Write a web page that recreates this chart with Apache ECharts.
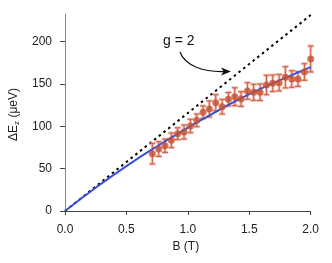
<!DOCTYPE html>
<html><head><meta charset="utf-8">
<script src="https://cdn.jsdelivr.net/npm/echarts@6/dist/echarts.min.js"></script>
<style>html,body{margin:0;padding:0;background:#fff}#c{width:332px;height:263px}</style>
</head><body><div id="c"></div>
<script>
const fieldB = [0.711,0.763,0.814,0.866,0.917,0.969,1.021,1.072,1.124,1.175,1.227,1.279,1.330,1.382,1.433,1.485,1.536,1.588,1.640,1.691,1.743,1.794,1.846,1.897,1.949,2.000];
const splitting = [67.7,73.2,77.1,83.5,91.3,93.3,100.4,107.1,116.6,120.5,127.9,123.2,132.0,135.0,132.3,141.8,140.2,140.2,148.8,150.9,151.6,157.9,155.9,155.9,164.2,179.6];
const errors = [12.2,8.7,7.9,8.7,7.0,8.3,8.0,7.5,7.5,9.5,9.5,8.7,8.0,10.6,8.7,9.8,9.5,9.8,11.5,9.8,9.8,12.6,9.8,8.7,9.8,15.4];
const fitB = [0,0.25,0.5,0.75,1.0,1.25,1.5,1.75,2.0];
const fitE = [0,27.5,53,76.5,98.5,119,138,154.5,170];
const g2B = [0,2.0];
const g2E = [0,231.5];
const xTicks = [0,0.5,1.0,1.5,2.0];
const yTicks = [0,50,100,150,200];

const FONT = 'Liberation Sans, Arial, sans-serif';
const chart = echarts.init(document.getElementById('c'), null, {renderer:'canvas'});
const pts = fieldB.map((b,i)=>[b,splitting[i]]);
const errData = fieldB.map((b,i)=>[b,splitting[i]-errors[i],splitting[i]+errors[i]]);
chart.setOption({
  animation:false,
  grid:{left:61,right:21.3,top:14,bottom:48},
  xAxis:{type:'value',min:-0.0326,max:2.0,
    axisLine:{show:true,lineStyle:{color:'#444',width:1}},
    axisTick:{show:true,customValues:xTicks,length:4,lineStyle:{color:'#444'}},
    axisLabel:{customValues:xTicks,formatter:v=>v.toFixed(1),color:'#222',fontSize:12,fontFamily:FONT,margin:9},
    splitLine:{show:false},
    name:'B (T)',nameLocation:'middle',nameGap:22,nameTextStyle:{color:'#222',fontSize:12,fontFamily:FONT}},
  yAxis:{type:'value',min:-4.73,max:232.7,
    axisLine:{show:true,lineStyle:{color:'#888',width:1}},
    axisTick:{show:true,customValues:yTicks,length:5,lineStyle:{color:'#444'}},
    axisLabel:{customValues:yTicks,color:'#222',fontSize:12,fontFamily:FONT,margin:9},
    splitLine:{show:false},
    name:'{a|ΔE}{s|z}{a| (μeV)}',nameLocation:'middle',nameGap:38,nameRotate:90,
    nameTextStyle:{rich:{a:{color:'#222',fontSize:12,fontFamily:FONT},s:{color:'#222',fontSize:8,fontFamily:FONT,padding:[6,0,0,0]}}}},
  series:[
    {type:'line',data:g2B.map((b,i)=>[b,g2E[i]]),symbol:'none',lineStyle:{color:'#000',width:2,type:[2.5,3.5]},z:2},
    {type:'custom',data:errData,z:3,renderItem:(params,api)=>{
      const x=api.value(0);const lo=api.coord([x,api.value(1)]);const hi=api.coord([x,api.value(2)]);
      const w=3;
      const light={stroke:'rgba(232,150,130,0.55)',lineWidth:3};
      const dark={stroke:'#cc5f44',lineWidth:1};
      return {type:'group',children:[
        {type:'line',shape:{x1:lo[0],y1:lo[1],x2:hi[0],y2:hi[1]},style:light},
        {type:'line',shape:{x1:lo[0]-w,y1:lo[1],x2:lo[0]+w,y2:lo[1]},style:light},
        {type:'line',shape:{x1:hi[0]-w,y1:hi[1],x2:hi[0]+w,y2:hi[1]},style:light},
        {type:'line',shape:{x1:lo[0],y1:lo[1],x2:hi[0],y2:hi[1]},style:dark},
        {type:'line',shape:{x1:lo[0]-w,y1:lo[1],x2:lo[0]+w,y2:lo[1]},style:dark},
        {type:'line',shape:{x1:hi[0]-w,y1:hi[1],x2:hi[0]+w,y2:hi[1]},style:dark}
      ]};
    }},
    {type:'line',data:fitB.map((b,i)=>[b,fitE[i]]),smooth:true,symbol:'none',lineStyle:{color:'#3b4fd6',width:2},z:4},
    {type:'scatter',data:pts,symbol:'circle',symbolSize:7,itemStyle:{color:'#c4502f'},z:5}
  ],
  graphic:[
    {type:'text',left:163,top:34,style:{text:'g = 2',font:'14px '+FONT,fill:'#111'}},
    {type:'bezierCurve',shape:{x1:180,y1:52,cpx1:185,cpy1:66,cpx2:204,cpy2:72,x2:224,y2:71.5},style:{stroke:'#111',lineWidth:1.2,fill:null}},
    {type:'polygon',shape:{points:[[231,71.5],[221,67.5],[223.5,71.5],[221,75.5]]},style:{fill:'#111'}}
  ]
});
</script></body></html>
